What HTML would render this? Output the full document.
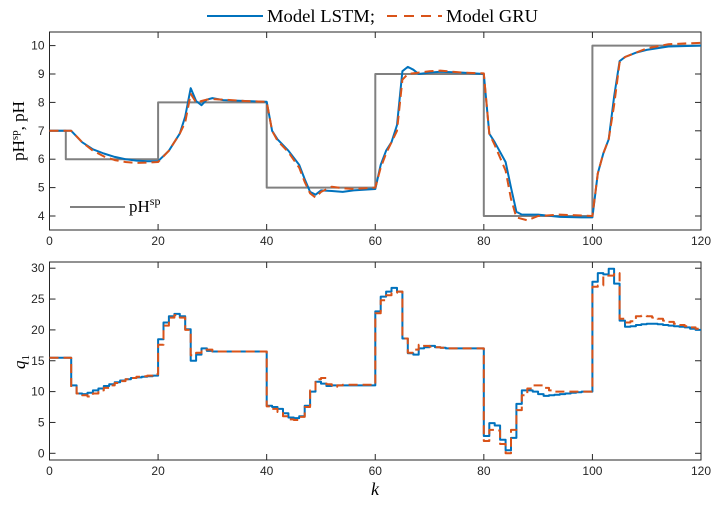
<!DOCTYPE html>
<html><head><meta charset="utf-8"><style>
body{margin:0;background:#fff;}
svg text{font-family:"Liberation Sans",sans-serif;}
.serif{font-family:"Liberation Serif",serif;}
</style></head><body>
<svg id="chart" width="719" height="500" xmlns="http://www.w3.org/2000/svg"></svg>
<script>
// ---- data ----
const kTicks=[0,20,40,60,80,100,120];
const phTicks=[4,5,6,7,8,9,10];
const qTicks=[0,5,10,15,20,25,30];
const spK=[0,3,20,40,60,80,100,120];
const spVal=[7,6,8,5,9,4,10,10];
const lstmK=[0,4,6,8,10,12,14,16,18,20,22,24,25,26,27,28,29,30,32,36,40,41,42,44,46,47,48,49,50,52,54,56,60,61,62,63,64,65,66,67,68,70,72,76,80,81,82,84,85,86,87,90,94,98,100,101,102,103,104,105,106,108,110,114,120];
const lstmPH=[7,7,6.6,6.35,6.2,6.08,6.0,5.95,5.93,5.93,6.3,6.9,7.5,8.5,8.05,7.9,8.1,8.15,8.08,8.05,8.02,7.0,6.7,6.3,5.8,5.3,4.85,4.75,4.9,4.88,4.85,4.9,4.95,5.8,6.3,6.6,7.2,9.1,9.25,9.15,9.0,9.05,9.08,9.05,9.0,6.9,6.6,5.9,5.0,4.15,4.05,4.05,3.97,3.95,3.95,5.5,6.2,6.7,8.2,9.45,9.6,9.75,9.85,9.97,10.0];
const gruK=[0,4,6,8,10,12,14,16,18,20,22,24,25,26,27,28,29,30,32,36,40,41,42,44,46,47,48,49,50,52,54,56,60,61,62,63,64,65,66,68,70,72,76,80,81,82,84,85,86,88,90,94,100,101,102,103,104,105,106,108,110,114,120];
const gruPH=[7,7,6.6,6.3,6.1,5.97,5.9,5.87,5.88,5.9,6.3,6.9,7.3,8.3,8.0,8.05,8.1,8.12,8.1,8.05,8.02,7.0,6.65,6.25,5.7,5.2,4.8,4.65,4.85,5.03,4.98,4.95,5.0,5.7,6.2,6.6,7.0,8.8,9.0,9.05,9.1,9.12,9.05,9.02,6.9,6.5,5.6,4.6,3.95,3.85,4.0,4.05,4.0,5.5,6.2,6.7,7.9,9.4,9.6,9.75,9.9,10.05,10.1];
const qLSTM=[15.5,15.5,15.5,15.5,11,9.7,9.6,9.8,10.2,10.5,10.9,11.2,11.5,11.8,12.0,12.2,12.3,12.4,12.5,12.6,
18.5,21.2,22.2,22.6,22.2,20.1,15.0,16.0,17.0,16.6,16.5,16.5,16.5,16.5,16.5,16.5,16.5,16.5,16.5,16.5,
7.7,7.5,7.2,6.5,5.8,5.7,6.0,7.7,10.0,11.6,11.3,10.9,11.0,11.0,11.0,11.0,11.0,11.0,11.0,11.0,
23.0,25.4,26.2,26.8,26.2,18.6,16.2,16.0,17.0,17.2,17.4,17.2,17.1,17.0,17.0,17.0,17.0,17.0,17.0,17.0,
2.8,4.9,4.5,2.2,0.5,2.5,8.0,10.2,10.2,10.0,9.6,9.3,9.4,9.5,9.6,9.7,9.8,9.9,10.0,10.0,
27.8,29.2,29.0,29.9,27.5,21.5,20.5,20.6,20.8,20.9,21.0,21.0,20.9,20.8,20.7,20.6,20.5,20.4,20.2,20.0];
const qGRU=[15.5,15.5,15.5,15.5,10.7,9.7,9.4,9.2,9.7,10.2,10.6,11.0,11.4,11.7,12.0,12.2,12.4,12.5,12.6,12.8,
17.6,20.7,22.0,22.4,22.0,20.0,15.9,16.3,16.8,16.8,16.5,16.5,16.5,16.5,16.5,16.5,16.5,16.5,16.5,16.5,
7.6,7.2,6.7,6.0,5.5,5.4,5.9,7.5,10.2,12.0,12.2,11.2,10.8,11.0,11.1,11.1,11.1,11.1,11.1,11.1,
22.7,24.8,25.6,26.0,26.2,18.6,16.3,16.8,17.6,17.4,17.3,17.2,17.1,17.0,17.0,17.0,17.0,17.0,17.0,17.0,
2.0,3.8,3.7,1.5,0.0,3.8,7.0,9.4,10.5,11.0,11.0,10.6,10.2,10.0,10.0,10.0,10.0,10.0,10.0,10.0,
27.0,27.2,28.8,28.8,29.2,21.8,21.2,21.4,22.2,22.3,22.2,22.0,21.8,21.5,21.3,21.0,20.8,20.6,20.4,20.2];

// ---- layout ----
const NS='http://www.w3.org/2000/svg';
const svg=document.getElementById('chart');
const L=49.5,R=701;
const xS=k=>L+(R-L)*k/120;
const T1=32,B1=230; const y1=v=>216-(v-4)*28.4;
const T2=262,B2=460; const y2=v=>453.3-v*6.17;
function el(tag,attrs,parent){const e=document.createElementNS(NS,tag);for(const a in attrs)e.setAttribute(a,attrs[a]);(parent||svg).appendChild(e);return e;}

function axes(T,B,yFn,yT,name){
  const g=el('g',{});
  
  
  for(const k of kTicks){
    const x=xS(k);
    el('line',{x1:x,x2:x,y1:B,y2:B-6,stroke:'#262626','stroke-width':1},g);
    el('line',{x1:x,x2:x,y1:T,y2:T+6,stroke:'#262626','stroke-width':1},g);
    const t=el('text',{x:x,y:B+15,'text-anchor':'middle','font-size':12,fill:'#262626'},g);
    t.textContent=k;
    
    
  }
  for(const v of yT){
    const y=yFn(v);
    el('line',{x1:L,x2:L+6,y1:y,y2:y,stroke:'#262626','stroke-width':1},g);
    el('line',{x1:R,x2:R-6,y1:y,y2:y,stroke:'#262626','stroke-width':1},g);
    const t=el('text',{x:L-5,y:y+4,'text-anchor':'end','font-size':12,fill:'#262626'},g);
    t.textContent=v;
    
    
  }
  el('rect',{x:L,y:T,width:R-L,height:B-T,fill:'none',stroke:'#262626','stroke-width':1},g);
}
axes(T1,B1,y1,phTicks,'ph');
axes(T2,B2,y2,qTicks,'q');

function poly(pts,color,dash,name,w){
  const p=el('polyline',{points:pts.map(p=>p[0].toFixed(1)+','+p[1].toFixed(1)).join(' '),fill:'none',stroke:color,'stroke-width':w||2,'stroke-linejoin':'round'});
  if(dash)p.setAttribute('stroke-dasharray',dash);
  
  
  return p;
}
let sp=[];
for(let i=0;i<spK.length-1;i++){sp.push([xS(spK[i]),y1(spVal[i])]);sp.push([xS(spK[i+1]),y1(spVal[i])]);}
poly(sp,'#808080',null,'setpoint-line',2);
poly(lstmK.map((k,i)=>[xS(k),y1(lstmPH[i])]),'#0072BD',null,'ph-lstm-line',2);
poly(gruK.map((k,i)=>[xS(k),y1(gruPH[i])]),'#D95319','9,5','ph-gru-line',2);
function stairs(vals){const pts=[];vals.forEach((v,i)=>{pts.push([xS(i),y2(v)]);pts.push([xS(i+1),y2(v)]);});return pts;}
poly(stairs(qLSTM),'#0072BD',null,'q-lstm-line',2);
poly(stairs(qGRU),'#D95319','9,5','q-gru-line',2);
</script>
<svg style="position:absolute;left:0;top:0" width="719" height="500" xmlns="http://www.w3.org/2000/svg">
 <g>
  <line x1="207" y1="16" x2="263" y2="16" stroke="#0072BD" stroke-width="2"/>
  <text class="serif" x="267" y="22" font-size="18" textLength="108" lengthAdjust="spacingAndGlyphs" fill="#000">Model LSTM;</text>
  <line x1="387" y1="16" x2="442" y2="16" stroke="#D95319" stroke-width="2" stroke-dasharray="10,7"/>
  <text class="serif" x="446" y="22" font-size="18" textLength="92" lengthAdjust="spacingAndGlyphs" fill="#000">Model GRU</text>
 </g>
 <g>
  <line x1="70" y1="207" x2="125" y2="207" stroke="#808080" stroke-width="2"/>
  <text class="serif" x="129" y="212" font-size="17" fill="#000">pH<tspan dy="-7" font-size="12">sp</tspan></text>
 </g>
 <text class="serif" transform="translate(24,131) rotate(-90)" text-anchor="middle" font-size="17" fill="#000">pH<tspan dy="-6" font-size="11">sp</tspan><tspan dy="6">, pH</tspan></text>
 <text class="serif" transform="translate(25,362) rotate(-90)" text-anchor="middle" font-size="17" font-style="italic" fill="#000">q<tspan dy="4" font-size="11" font-style="normal">1</tspan></text>
 <text class="serif" x="375" y="495" text-anchor="middle" font-size="18" font-style="italic" fill="#000">k</text>
</svg>
</body></html>
